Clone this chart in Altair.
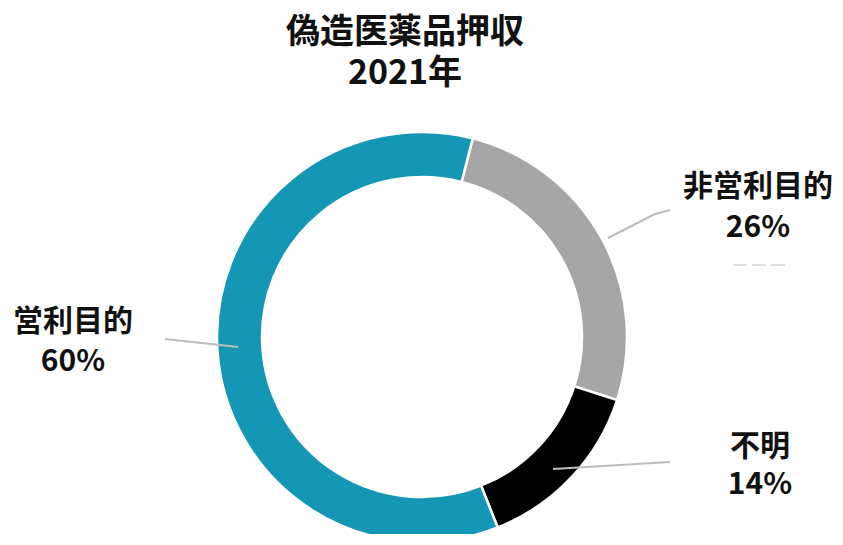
import math
import altair as alt
import pandas as pd

# ---- data ----
categories = ["非営利目的", "不明", "営利目的"]
shares = [26, 14, 60]
colors = ["#a6a6a6", "#000000", "#1497b5"]
title_lines = ["偽造医薬品押収", "2021年"]

FONT = "Noto Sans CJK JP"

# ---- layout (pixel positions within the view) ----
cx, cy = 414, 329
outer_r, inner_r = 205, 160
start = 0.25  # radians, clockwise from 12 o'clock

label_pos = {  # category -> (x, y name line, y pct line)
    "非営利目的": (750, 179, 220),
    "不明": (752, 439, 477),
    "営利目的": (65, 314, 354),
}
leader_pts = {
    "非営利目的": [(600, 230), (647, 206), (662, 202)],
    "不明": [(545, 461), (662, 454)],
    "営利目的": [(157, 331), (230, 339)],
}

arc_df = pd.DataFrame({
    "cat": categories,
    "share": shares,
    "ord": list(range(len(categories))),
})

lab_rows = []
for c, s in zip(categories, shares):
    x, y1, y2 = label_pos[c]
    lab_rows.append({"x": x, "y": y1, "t": c})
    lab_rows.append({"x": x, "y": y2, "t": f"{s}%"})
lab_df = pd.DataFrame(lab_rows)

line_rows = []
for c in categories:
    for i, (x, y) in enumerate(leader_pts[c]):
        line_rows.append({"cat": c, "i": i, "x": x, "y": y})
line_df = pd.DataFrame(line_rows)

title_df = pd.DataFrame({"x": [397, 397], "y": [25, 66], "t": title_lines})

arcs = alt.Chart(arc_df).mark_arc(
    outerRadius=outer_r, innerRadius=inner_r, stroke="white", strokeWidth=2.5
).encode(
    theta=alt.Theta("share:Q", stack=True,
                    scale=alt.Scale(range=[start, start + 2 * math.pi])),
    order=alt.Order("ord:Q"),
    color=alt.Color("cat:N", scale=alt.Scale(domain=categories, range=colors),
                    legend=None),
    x=alt.value(cx),
    y=alt.value(cy),
)

leaders = alt.Chart(line_df).mark_line(color="#bdbdbd", strokeWidth=2).encode(
    x=alt.X("x:Q", scale=None),
    y=alt.Y("y:Q", scale=None),
    detail="cat:N",
    order="i:Q",
)

faint = alt.Chart(pd.DataFrame({"x": [725], "x2": [779], "y": [257]})).mark_rule(
    color="#e0e0e0", strokeWidth=2, strokeDash=[14, 5]
).encode(
    x=alt.X("x:Q", scale=None), x2="x2:Q", y=alt.Y("y:Q", scale=None)
)

labels = alt.Chart(lab_df).mark_text(
    font=FONT, fontSize=30, fontWeight="bold", color="#111111",
    align="center", baseline="middle"
).encode(
    x=alt.X("x:Q", scale=None), y=alt.Y("y:Q", scale=None), text="t:N"
)

title = alt.Chart(title_df).mark_text(
    font=FONT, fontSize=34, fontWeight="bold", color="#111111",
    align="center", baseline="middle"
).encode(
    x=alt.X("x:Q", scale=None), y=alt.Y("y:Q", scale=None), text="t:N"
)

chart = alt.layer(arcs, leaders, faint, labels, title).properties(
    width=827, height=526, padding=0,
    autosize=alt.AutoSizeParams(type="none"),
).configure_view(strokeWidth=0, stroke="transparent")

chart.save("out.html", embed_options={"renderer": "svg", "actions": False})
